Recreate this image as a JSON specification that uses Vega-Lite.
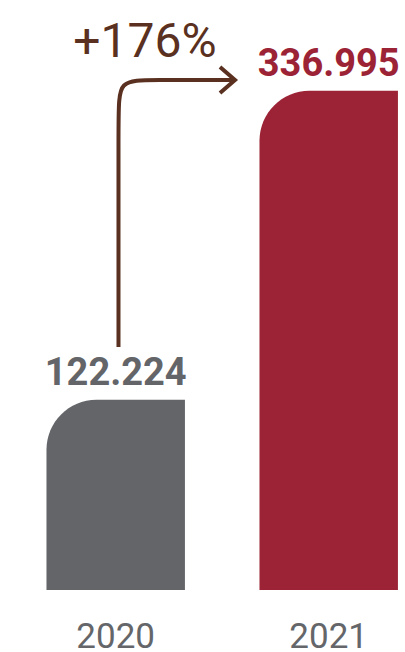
{
  "$schema": "https://vega.github.io/schema/vega-lite/v6.json",
  "width": 405,
  "height": 590,
  "autosize": {"type": "none"},
  "padding": {"left": 0, "top": 0, "right": 0, "bottom": 62},
  "background": "white",
  "config": {"view": {"stroke": null}, "font": "Roboto"},
  "layer": [
    {
      "data": {"values": [
        {"year": "2020", "value": 122.224, "label": "122.224"},
        {"year": "2021", "value": 336.995, "label": "336.995"}
      ]},
      "encoding": {
        "x": {
          "field": "year", "type": "nominal",
          "scale": {"paddingInner": 0.35, "paddingOuter": 0.1257, "align": 0.868},
          "axis": {"title": null, "ticks": false, "domain": false, "labelFontSize": 35, "labelFont": "Roboto", "labelColor": "#646669", "labelPadding": 57, "labelBaseline": "alphabetic", "labelAngle": 0}
        },
        "y": {"field": "value", "type": "quantitative", "scale": {"domain": [-10, 400], "nice": false, "zero": false}, "axis": null},
        "color": {"field": "year", "type": "nominal", "scale": {"domain": ["2020", "2021"], "range": ["#636569", "#9b2335"]}, "legend": null}
      },
      "layer": [
        {"mark": {"type": "bar", "cornerRadiusTopLeft": 50}, "encoding": {"y2": {"datum": -10}}},
        {"mark": {"type": "text", "baseline": "alphabetic", "dy": -15, "fontSize": 38, "fontWeight": "bold", "font": "Roboto"}, "encoding": {"text": {"field": "label"}}}
      ]
    },
    {
      "encoding": {
        "x": {"field": "pos", "type": "quantitative", "scale": {"domain": [2019.4566, 2021.358], "nice": false, "zero": false}, "axis": null},
        "y": {"field": "value", "type": "quantitative"}
      },
      "layer": [
        {
          "data": {"values": [
            {"pos": 2020.0129, "value": 158.87},
            {"pos": 2020.0129, "value": 321.47},
            {"pos": 2020.0129, "value": 344.41},
            {"pos": 2020.1678, "value": 344.41},
            {"pos": 2020.5599, "value": 344.41}
          ]},
          "mark": {"type": "line", "interpolate": "basis", "stroke": "#5a3020", "strokeWidth": 4},
          "encoding": {"order": {"value": null}}
        },
        {
          "data": {"values": [
            {"pos": 2020.4894, "value": 353.44},
            {"pos": 2020.5599, "value": 344.41},
            {"pos": 2020.4894, "value": 335.37}
          ]},
          "mark": {"type": "line", "interpolate": "linear", "stroke": "#5a3020", "strokeWidth": 4},
          "encoding": {"order": {"value": null}}
        },
        {
          "data": {"values": [
            {"pos": 2020.1373, "value": 360.39, "label": "+176%"}
          ]},
          "mark": {"type": "text", "align": "center", "baseline": "alphabetic", "fontSize": 48, "font": "Roboto", "color": "#5a3020"},
          "encoding": {"text": {"field": "label"}}
        }
      ]
    }
  ],
  "resolve": {"scale": {"x": "independent"}}
}
